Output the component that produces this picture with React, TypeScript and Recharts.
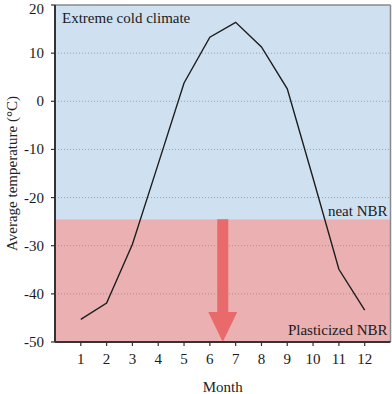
import React from 'react';
import { ComposedChart, Line, XAxis, YAxis, ReferenceArea, ReferenceLine, Label } from 'recharts';

const months = [1, 2, 3, 4, 5, 6, 7, 8, 9, 10, 11, 12];
const temps = [-45.3, -41.9, -29.7, -13, 3.8, 13.3, 16.4, 11.3, 2.6, -16, -34.9, -43.4];
const yTicks = [-50, -40, -30, -20, -10, 0, 10, 20];
const gridValues = [-40, -30, -20, -10, 0, 10];
const boundary = -24.5;
const arrowMonth = 6.5;
const coldLabel = 'Extreme cold climate';
const neatLabel = 'neat NBR';
const plastLabel = 'Plasticized NBR';

const data = months.map((m, i) => ({ month: m, temp: temps[i] }));

const FONT = '"Liberation Serif", "Times New Roman", serif';

const ArrowShape = (props: any) => {
  const { x1, y1, x2, y2 } = props;
  const cx = (x1 + x2) / 2;
  const top = Math.min(y1, y2);
  const bottom = Math.max(y1, y2);
  const headH = 30;
  const shaftW = 11;
  const headW = 29;
  const hb = bottom - headH;
  const pts = [
    [cx - shaftW / 2, top],
    [cx + shaftW / 2, top],
    [cx + shaftW / 2, hb],
    [cx + headW / 2, hb],
    [cx, bottom],
    [cx - headW / 2, hb],
    [cx - shaftW / 2, hb],
  ]
    .map((p) => p.join(','))
    .join(' ');
  return <polygon points={pts} fill="#e96a6a" stroke="none" />;
};

const txt = { fill: '#222', fontSize: 15, fontFamily: FONT };

const cornerLabel = (value: string, corner: 'tl' | 'br', dx: number, dy: number) => (p: any) => {
  const vb = p.viewBox || {};
  const { x = 0, y = 0, width = 0, height = 0 } = vb;
  if (corner === 'tl') {
    return (
      <text x={x + dx} y={y + dy + 11} textAnchor="start" fontFamily={FONT} fontSize={15} fill="#1a1a1a">
        {value}
      </text>
    );
  }
  return (
    <text x={x + width - dx} y={y + height - dy} textAnchor="end" fontFamily={FONT} fontSize={15} fill="#1a1a1a">
      {value}
    </text>
  );
};

const XTick = (p: any) => (
  <text x={p.x} y={p.y + 11} textAnchor="middle" fontFamily={FONT} fontSize={15} fill="#1a1a1a">
    {p.payload.value}
  </text>
);

const YTick = (p: any) => (
  <text x={p.x} y={p.y + 5} textAnchor="end" fontFamily={FONT} fontSize={15} fill="#1a1a1a">
    {p.payload.value}
  </text>
);

export default function App() {
  return (
    <div style={{ position: 'absolute', left: 0, top: 0, fontFamily: FONT }}>
      <ComposedChart
        width={392}
        height={394}
        data={data}
        margin={{ top: 5, right: 1.5, left: 0, bottom: 0 }}
        style={{ fontFamily: FONT }}
      >
        <XAxis
          dataKey="month"
          type="number"
          domain={[0, 13]}
          ticks={months}
          allowDataOverflow
          height={52}
          tickSize={4}
          tickMargin={7}
          tick={<XTick />}
          axisLine={{ stroke: '#333', strokeWidth: 2 }}
          tickLine={{ stroke: '#333', strokeWidth: 1.2 }}
        >
          <Label value="Month" position="insideBottom" offset={2} fontFamily={FONT} fontSize={15} fill="#1a1a1a" style={txt} />
        </XAxis>
        <YAxis
          type="number"
          domain={[-50, 20]}
          ticks={yTicks}
          allowDataOverflow
          width={55}
          tickSize={4}
          tickMargin={7}
          tick={<YTick />}
          axisLine={{ stroke: '#333', strokeWidth: 2 }}
          tickLine={{ stroke: '#333', strokeWidth: 1.2 }}
        >
          <Label
            value="Average temperature (°C)"
            angle={-90}
            position="insideLeft"
            offset={12}
            fontFamily={FONT}
            fontSize={15}
            fill="#1a1a1a"
            style={{ ...txt, textAnchor: 'middle' }}
          />
        </YAxis>
        <ReferenceArea y1={boundary} y2={20} x1={0} x2={13} fill="#cfe0f1" fillOpacity={1} stroke="none" ifOverflow="visible">
          <Label content={cornerLabel(coldLabel, 'tl', 7, 7)} />
          <Label content={cornerLabel(neatLabel, 'br', 3, 3)} />
        </ReferenceArea>
        <ReferenceArea y1={-50} y2={boundary} x1={0} x2={13} fill="#ebb0b1" fillOpacity={1} stroke="none" ifOverflow="visible">
          <Label content={cornerLabel(plastLabel, 'br', 3, 7)} />
        </ReferenceArea>
        {gridValues.map((v) => (
          <ReferenceLine key={v} y={v} stroke="#8c8c8c" strokeOpacity={0.75} strokeDasharray="1 2" strokeWidth={1} />
        ))}
        <ReferenceLine y={20} stroke="#8a8a8a" strokeWidth={1.5} ifOverflow="visible" />
        <ReferenceLine x={13} stroke="#8a8a8a" strokeWidth={1.5} ifOverflow="visible" />
        <ReferenceLine
          segment={[
            { x: arrowMonth, y: boundary },
            { x: arrowMonth, y: -50 },
          ]}
          shape={ArrowShape}
          ifOverflow="visible"
        />
        <Line
          dataKey="temp"
          stroke="#1e1e1e"
          strokeWidth={1.4}
          dot={false}
          activeDot={false}
          isAnimationActive={false}
        />
      </ComposedChart>
    </div>
  );
}
